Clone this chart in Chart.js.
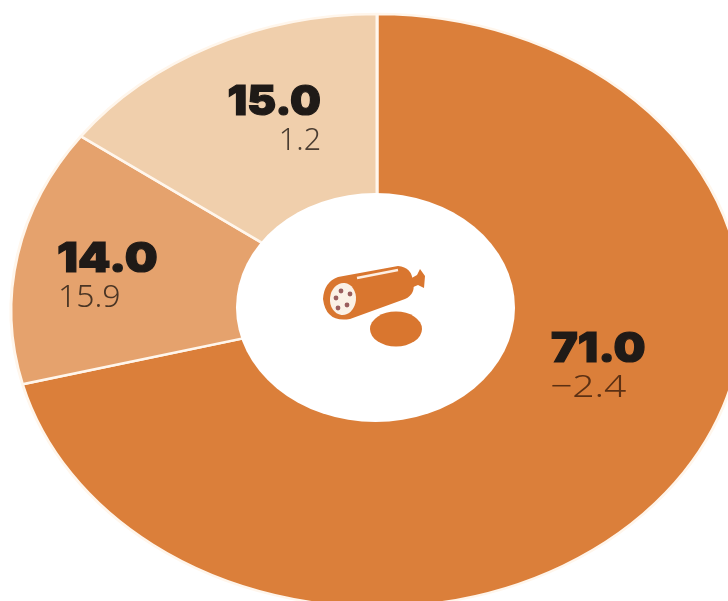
<!DOCTYPE html>
<html>
<head>
<meta charset="utf-8">
<script src="https://cdn.jsdelivr.net/npm/chart.js@4"></script>
<style>
html, body { margin: 0; padding: 0; background: #fff; overflow: hidden; }
canvas { display: block; }
</style>
</head>
<body>
<canvas id="shares" width="728" height="601"></canvas>
<script>
var categories = ['Share A', 'Share B', 'Share C'];
var shares = [71.0, 14.0, 15.0];
var shareLabels = ['71.0', '14.0', '15.0'];
var changeLabels = ['\u22122.4', '15.9', '1.2'];
var sliceColors = ['#DB7F3A', '#E5A26D', '#F0CFAC'];

//the original is a squashed circle, so the arcs get drawn through a y scale
var centerX = 377, centerY = 310.5, squash = 0.81;

//where the text goes: align, x, baselines, horizontal stretch of each line
var labelPlaces = [
	{align: 'left', x: 551, big: 362, small: 397, smallX: 550, stretch: 1.1, smallStretch: 1.22, color: '#5C3013'},
	{align: 'left', x: 57, big: 272, small: 307, smallX: 58, stretch: 1.13, smallStretch: 1, color: '#4A3524'},
	{align: 'right', x: 321, big: 115, small: 150, smallX: 321, stretch: 1.06, smallStretch: 0.95, color: '#4A3D32'}
];

var squashPlugin = {
	id: 'squash',
	beforeDatasetsDraw: function (chart) {
		var ctx = chart.ctx;
		var area = chart.chartArea;
		ctx.save();
		ctx.translate(centerX, centerY);
		ctx.scale(1, squash);
		ctx.translate(-(area.left + area.right) / 2, -(area.top + area.bottom) / 2);
	},
	afterDatasetsDraw: function (chart) {
		chart.ctx.restore();
	}
};

function stretchedText(ctx, text, x, y, stretch, heavy) {
	ctx.save();
	ctx.translate(x, y);
	ctx.scale(stretch, 1);
	ctx.fillText(text, 0, 0);
	if (heavy) {
		ctx.strokeText(text, 0, 0);
	}
	ctx.restore();
}

var labelPlugin = {
	id: 'labels',
	afterDraw: function (chart) {
		var ctx = chart.ctx;
		ctx.save();
		//hole sits a little above the centre of the ring in the original
		ctx.fillStyle = '#FFFFFF';
		ctx.beginPath();
		ctx.ellipse(375.5, 307.5, 139.5, 114.5, 0, 0, Math.PI * 2);
		ctx.fill();
		ctx.textBaseline = 'alphabetic';
		for (var i = 0; i < shareLabels.length; i++) {
			var p = labelPlaces[i];
			ctx.textAlign = p.align;
			ctx.fillStyle = '#1F1A17';
			ctx.strokeStyle = '#1F1A17';
			ctx.lineWidth = 1.2;
			ctx.font = '900 41px Inter, "DejaVu Sans"';
			stretchedText(ctx, shareLabels[i], p.x, p.big, p.stretch, true);
			ctx.fillStyle = p.color;
			ctx.font = '300 32px "Noto Sans"';
			stretchedText(ctx, changeLabels[i], p.smallX, p.small, p.smallStretch, false);
		}
		drawSausage(ctx);
		ctx.restore();
	}
};

//the sausage and slice in the hole
function drawSausage(ctx) {
	var orange = '#D9762F';
	ctx.fillStyle = orange;
	//knot at the end
	ctx.beginPath();
	ctx.moveTo(410, 279);
	ctx.lineTo(417, 275);
	ctx.lineTo(420, 269);
	ctx.lineTo(425, 276);
	ctx.lineTo(424, 288);
	ctx.lineTo(418, 285);
	ctx.lineTo(411, 288);
	ctx.closePath();
	ctx.fill();
	//body
	ctx.beginPath();
	ctx.moveTo(338, 277);
	ctx.lineTo(398, 266);
	ctx.quadraticCurveTo(412, 267, 413, 282);
	ctx.quadraticCurveTo(416, 294, 405, 299);
	ctx.lineTo(350, 319);
	ctx.quadraticCurveTo(326, 323, 323, 299);
	ctx.quadraticCurveTo(324, 282, 338, 277);
	ctx.closePath();
	ctx.fill();
	//shine
	ctx.strokeStyle = '#FDEFE3';
	ctx.lineWidth = 2.5;
	ctx.beginPath();
	ctx.moveTo(357, 278);
	ctx.lineTo(398, 270);
	ctx.stroke();
	//cut face
	ctx.fillStyle = '#FBF1E6';
	ctx.beginPath();
	ctx.ellipse(343, 299, 13, 16, 0.1, 0, Math.PI * 2);
	ctx.fill();
	ctx.fillStyle = '#9A5E5E';
	var spots = [[341, 291], [350, 294], [336, 298], [347, 305], [338, 308]];
	for (var i = 0; i < spots.length; i++) {
		ctx.beginPath();
		ctx.arc(spots[i][0], spots[i][1], 2.4, 0, Math.PI * 2);
		ctx.fill();
	}
	//slice
	ctx.fillStyle = orange;
	ctx.beginPath();
	ctx.ellipse(396, 329, 26, 17.5, 0, 0, Math.PI * 2);
	ctx.fill();
}

var ctx_shares = document.getElementById('shares');
var shares_chart = new Chart(ctx_shares, {
	type: 'doughnut',
	data: {
		labels: categories,
		datasets: [{
			data: shares,
			backgroundColor: sliceColors,
			borderColor: '#FFF6EC',
			borderWidth: 3,
			clip: false
		}]
	},
	options: {
		responsive: false,
		animation: false,
		radius: 366,
		cutout: '30%',
		rotation: 0,
		layout: {padding: 0},
		plugins: {legend: {display: false}, tooltip: {enabled: false}}
	},
	plugins: [squashPlugin, labelPlugin]
});
</script>
</body>
</html>
